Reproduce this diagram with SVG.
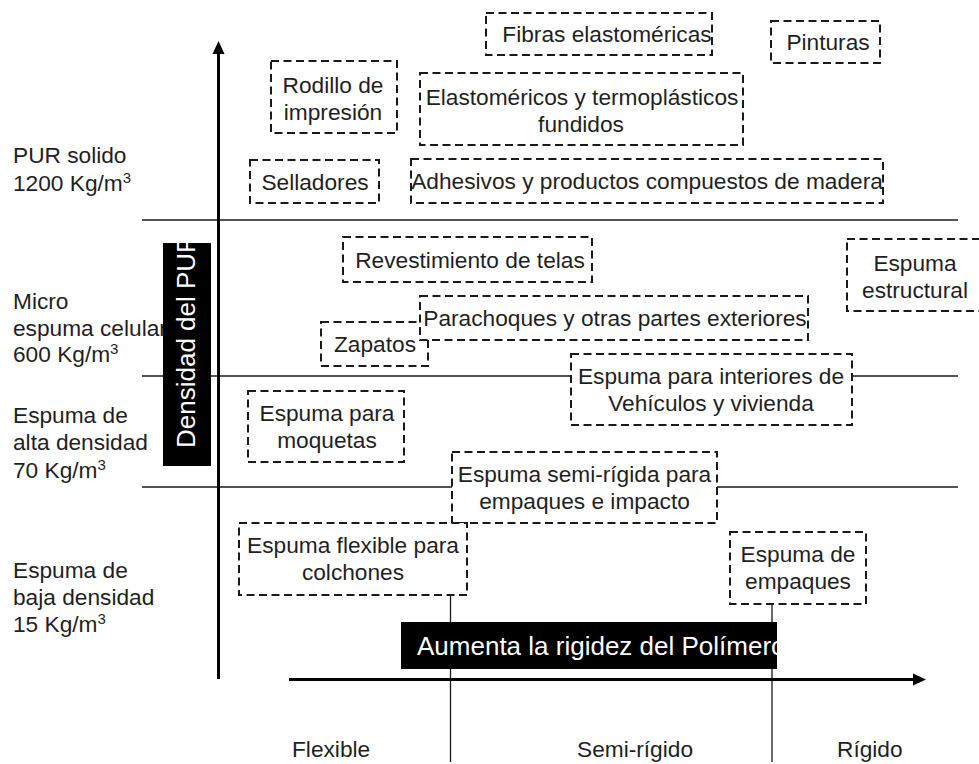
<svg xmlns="http://www.w3.org/2000/svg" width="979" height="764" viewBox="0 0 979 764">
  <style>
    text { font-family: "Liberation Sans", Arial, sans-serif; font-size: 22.7px; fill: #1f1f1f; }
    .c { text-anchor: middle; }
    .box { fill: #ffffff; stroke: #1a1a1a; stroke-width: 2; stroke-dasharray: 8 4.5; }
    .thin { stroke: #1a1a1a; stroke-width: 1.3; fill: none; }
    .axis { stroke: #000000; stroke-width: 3; fill: none; }
    .sup { font-size: 15px; }
    .band { fill: #000000; }
    .inv { fill: #ffffff; font-size: 26px; }
  </style>

  <!-- density band labels -->
  <g id="density-labels">
    <text x="13" y="163">PUR solido</text>
    <text x="13" y="191">1200 Kg/m<tspan class="sup" dy="-8">3</tspan></text>
    <text x="13" y="309">Micro</text>
    <text x="13" y="336">espuma celular</text>
    <text x="13" y="362">600 Kg/m<tspan class="sup" dy="-8">3</tspan></text>
    <text x="13" y="423">Espuma de</text>
    <text x="13" y="450">alta densidad</text>
    <text x="13" y="478">70 Kg/m<tspan class="sup" dy="-8">3</tspan></text>
    <text x="13" y="578">Espuma de</text>
    <text x="13" y="605">baja densidad</text>
    <text x="13" y="632">15 Kg/m<tspan class="sup" dy="-8">3</tspan></text>
  </g>

  <!-- band separators, rigidity separators and axes -->
  <g id="connectors">
    <line class="thin" x1="142" y1="220" x2="958" y2="220"/>
    <line class="thin" x1="142" y1="376" x2="958" y2="376"/>
    <line class="thin" x1="142" y1="487" x2="958" y2="487"/>
    <line class="thin" x1="450.5" y1="595" x2="450.5" y2="762"/>
    <line class="thin" x1="772" y1="604" x2="772" y2="762"/>
    <line class="axis" x1="218.5" y1="52" x2="218.5" y2="679"/>
    <polygon points="218.5,41 212.5,54 224.5,54" fill="#000"/>
    <line class="axis" x1="289" y1="679.5" x2="914" y2="679.5"/>
    <polygon points="926,679.5 913,673.5 913,685.5" fill="#000"/>
  </g>

  <!-- axis titles -->
  <g id="y-title">
    <rect class="band" x="163" y="243" width="48" height="223"/>
    <text class="inv" transform="translate(195,448) rotate(-90)">Densidad del PUR</text>
  </g>
  <g id="x-title">
    <rect class="band" x="401" y="622" width="376" height="47"/>
    <text class="inv" x="417" y="655">Aumenta la rigidez del Polímero</text>
  </g>

  <!-- applications -->
  <g id="fibras">
    <rect class="box" x="486" y="13" width="226" height="42"/>
    <text class="c" x="607" y="42">Fibras elastoméricas</text>
  </g>
  <g id="pinturas">
    <rect class="box" x="771" y="21" width="109" height="42"/>
    <text class="c" x="828" y="50">Pinturas</text>
  </g>
  <g id="rodillo">
    <rect class="box" x="271" y="61" width="126" height="72"/>
    <text class="c" x="333" y="93">Rodillo de</text>
    <text class="c" x="333" y="120">impresión</text>
  </g>
  <g id="elastomericos">
    <rect class="box" x="420" y="73" width="323" height="72"/>
    <text class="c" x="582" y="105">Elastoméricos y termoplásticos</text>
    <text class="c" x="581" y="132">fundidos</text>
  </g>
  <g id="selladores">
    <rect class="box" x="250" y="160" width="129" height="43"/>
    <text class="c" x="315" y="190">Selladores</text>
  </g>
  <g id="adhesivos">
    <rect class="box" x="411" y="159" width="472" height="44"/>
    <text class="c" x="647" y="189">Adhesivos y productos compuestos de madera</text>
  </g>
  <g id="revestimiento">
    <rect class="box" x="343" y="237" width="249" height="45"/>
    <text class="c" x="470" y="268">Revestimiento de telas</text>
  </g>
  <g id="estructural">
    <rect class="box" x="847" y="239" width="140" height="72"/>
    <text class="c" x="915" y="271">Espuma</text>
    <text class="c" x="915" y="298">estructural</text>
  </g>
  <g id="zapatos">
    <rect class="box" x="321" y="322" width="107" height="44"/>
    <text class="c" x="375" y="352">Zapatos</text>
  </g>
  <g id="parachoques">
    <rect class="box" x="420" y="296" width="388" height="44"/>
    <text class="c" x="615" y="326">Parachoques y otras partes exteriores</text>
  </g>
  <g id="interiores">
    <rect class="box" x="571" y="354" width="281" height="71"/>
    <text class="c" x="711" y="384">Espuma para interiores de</text>
    <text class="c" x="711" y="411">Vehículos y vivienda</text>
  </g>
  <g id="moquetas">
    <rect class="box" x="248" y="391" width="156" height="71"/>
    <text class="c" x="327" y="421">Espuma para</text>
    <text class="c" x="327" y="448">moquetas</text>
  </g>
  <g id="semirigida">
    <rect class="box" x="452" y="452" width="265" height="71"/>
    <text class="c" x="584.5" y="482">Espuma semi-rígida para</text>
    <text class="c" x="584.5" y="509">empaques e impacto</text>
  </g>
  <g id="colchones">
    <rect class="box" x="239" y="523" width="228" height="72"/>
    <text class="c" x="353" y="553">Espuma flexible para</text>
    <text class="c" x="353" y="580">colchones</text>
  </g>
  <g id="empaques">
    <rect class="box" x="730" y="532" width="136" height="72"/>
    <text class="c" x="798" y="562">Espuma de</text>
    <text class="c" x="798" y="589">empaques</text>
  </g>

  <!-- rigidity classes -->
  <g id="rigidity-labels">
    <text x="292" y="757">Flexible</text>
    <text x="577" y="757">Semi-rígido</text>
    <text x="837" y="757">Rígido</text>
  </g>
</svg>
